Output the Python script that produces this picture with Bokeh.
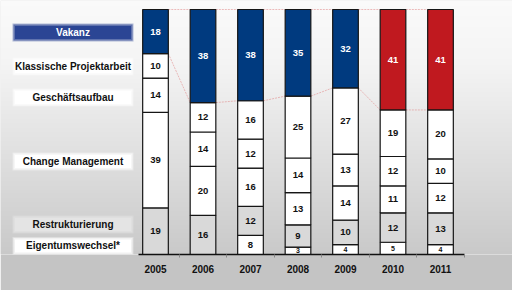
import numpy as np
import pandas as pd
from bokeh.plotting import figure
from bokeh.models import Range1d, FixedTicker, ColumnDataSource
from bokeh.core.properties import value
from bokeh.embed import file_html
from bokeh.resources import INLINE

# ---------------- data ----------------
years = ["2005", "2006", "2007", "2008", "2009", "2010", "2011"]
categories = ["Eigentumswechsel*", "Restrukturierung", "Change Management",
              "Geschäftsaufbau", "Klassische Projektarbeit", "Vakanz"]
eigentumswechsel = [0, 0, 8, 3, 4, 5, 4]
restrukturierung = [19, 16, 12, 9, 10, 12, 13]
change_management = [39, 20, 16, 13, 14, 11, 12]
geschaeftsaufbau = [14, 14, 12, 14, 13, 12, 10]
klassische_projektarbeit = [10, 12, 16, 25, 27, 19, 20]
vakanz = [18, 38, 38, 35, 32, 41, 41]
highlight_years = ["2010", "2011"]

# ---------------- style ----------------
FONT = "Liberation Sans"
NAVY = "#003a7f"
RED = "#c0191f"
GRAY = "#d9d9d9"
cat_fill = {
    "Eigentumswechsel*": "#ffffff",
    "Restrukturierung": GRAY,
    "Change Management": "#ffffff",
    "Geschäftsaufbau": "#ffffff",
    "Klassische Projektarbeit": "#ffffff",
    "Vakanz": NAVY,
}
legend_box_fill = {
    "Eigentumswechsel*": "#ffffff",
    "Restrukturierung": "#e4e4e4",
    "Change Management": "#ffffff",
    "Geschäftsaufbau": "#ffffff",
    "Klassische Projektarbeit": "#ffffff",
    "Vakanz": "#2b4594",
}
legend_y = [3.5, 12.2, 38.0, 64.1, 76.7, 90.6]   # label placement (data units)
BAR_W = 0.54
PX_PER_X = 47.5
W, H = 512, 290
BOTTOM_BORDER = 36
PX_PER_Y = 2.45

# ---------------- table ----------------
series = [eigentumswechsel, restrukturierung, change_management,
          geschaeftsaufbau, klassische_projektarbeit, vakanz]
vals = np.array(series, dtype=float)
pct = vals / vals.sum(axis=0) * 100.0
tops = np.cumsum(pct, axis=0)
bottoms = tops - pct

rows = []
for ci, cat in enumerate(categories):
    for yi, yr in enumerate(years):
        fill = cat_fill[cat]
        if cat == "Vakanz" and yr in highlight_years:
            fill = RED
        v = int(vals[ci, yi])
        rows.append(dict(
            x=yi, bottom=bottoms[ci, yi], top=tops[ci, yi],
            mid=(bottoms[ci, yi] + tops[ci, yi]) / 2, fill=fill,
            label=str(v) if v > 0 else "",
            tcolor="#ffffff" if cat == "Vakanz" else "#111111",
            tsize="7px" if v < 6 else "9.5px",
        ))
df = pd.DataFrame(rows)
big = ColumnDataSource(df[df["tsize"] == "9.5px"])
small = ColumnDataSource(df[df["tsize"] == "7px"])
bars = ColumnDataSource(df)

# ---------------- figure ----------------
x0 = -155 / PX_PER_X
x1 = (W - 155) / PX_PER_X
frame_h = H - BOTTOM_BORDER
y1 = frame_h / PX_PER_Y

p = figure(width=W, height=H, output_backend="svg", toolbar_location=None,
           x_range=Range1d(x0, x1), y_range=Range1d(0, y1),
           min_border_left=0, min_border_right=0, min_border_top=0,
           min_border_bottom=BOTTOM_BORDER)
p.yaxis.visible = False
p.grid.visible = False
p.outline_line_color = None
p.border_fill_color = "#c4c4c4"
p.background_fill_color = "#e6e6e6"

# background gradient (piecewise: light top, darker towards the bottom)
N = 256
t = np.linspace(0, 1, N)           # 0 = bottom of frame, 1 = top
stops_t = [0.0, 0.75, 1.0]
stops_c = [0xc9, 0xf4, 0xfa]
img = np.empty((N, 1), dtype=np.uint32)
view = img.view(dtype=np.uint8).reshape((N, 1, 4))
shade = np.interp(t, stops_t, stops_c)
for k in range(N):
    g = int(round(shade[k]))
    view[k, 0, 0] = g; view[k, 0, 1] = g; view[k, 0, 2] = g; view[k, 0, 3] = 255
p.image_rgba(image=[img], x=x0, y=0, dw=x1 - x0, dh=y1)

# connecting pink lines
vb = bottoms[-1]
xs0 = [i + BAR_W / 2 for i in range(len(years) - 1)]
xs1 = [i + 1 - BAR_W / 2 for i in range(len(years) - 1)]
p.segment(x0=xs0, y0=list(vb[:-1]), x1=xs1, y1=list(vb[1:]),
          line_color="#e39595", line_width=0.8, line_dash="2 1", line_alpha=0.8)
p.segment(x0=xs0, y0=[100] * len(xs0), x1=xs1, y1=[100] * len(xs0),
          line_color="#e39595", line_width=0.8, line_dash="2 1", line_alpha=0.8)

# bars
p.vbar(x="x", width=BAR_W, bottom="bottom", top="top", source=bars,
       fill_color="fill", line_color="#151515", line_width=1.2)

# value labels
for src, fs in ((big, "9.5px"), (small, "7px")):
    p.text(x="x", y="mid", text="label", source=src, text_color="tcolor",
           text_align="center", text_baseline="middle",
           text_font=value(FONT), text_font_style="bold", text_font_size=fs)

# legend-like labels on the left (soft-edged boxes)
lx = (14 + 131) / 2 / PX_PER_X + x0
box_cols = [legend_box_fill[c] for c in categories]
p.rect(x=[lx] * len(categories), y=legend_y, width=121, height=18,
       width_units="screen", height_units="screen",
       fill_color=box_cols, fill_alpha=0.35, line_color=None)
p.rect(x=[lx] * len(categories), y=legend_y, width=119, height=16,
       width_units="screen", height_units="screen",
       fill_color=box_cols, fill_alpha=0.6, line_color=None)
p.rect(x=[lx] * len(categories), y=legend_y, width=116, height=13,
       width_units="screen", height_units="screen",
       fill_color=box_cols, line_color=None)
p.text(x=[lx] * len(categories), y=legend_y, text=categories,
       text_color=["#ffffff" if c == "Vakanz" else "#111111" for c in categories],
       text_align="center", text_baseline="middle",
       text_font=value(FONT), text_font_style="bold", text_font_size="10px")

# x axis
ax = p.xaxis[0]
ax.ticker = FixedTicker(ticks=list(range(len(years))),
                        minor_ticks=[i + 0.5 for i in range(len(years))])
ax.major_label_overrides = {i: y for i, y in enumerate(years)}
ax.bounds = (-0.36, len(years) - 0.5)
ax.axis_line_color = "#111111"
ax.axis_line_width = 1.5
ax.major_tick_line_color = None
ax.major_tick_out = 0
ax.major_tick_in = 0
ax.minor_tick_out = 3
ax.minor_tick_in = 0
ax.minor_tick_line_color = "#888888"
ax.major_label_standoff = 7
ax.major_label_text_font = FONT
ax.major_label_text_font_style = "bold"
ax.major_label_text_font_size = "10px"
ax.major_label_text_color = "#111111"

open("out.html", "w").write(file_html(p, INLINE))
